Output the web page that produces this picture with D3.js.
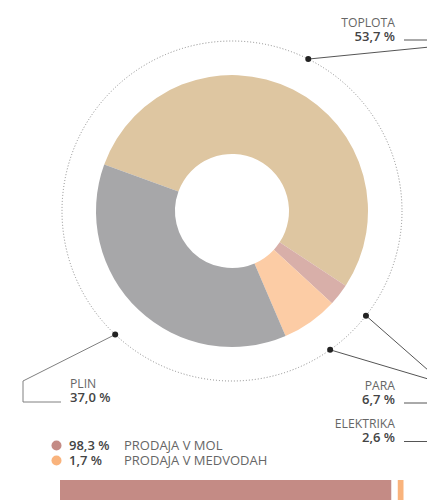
<!DOCTYPE html>
<html>
<head>
<meta charset="utf-8">
<script src="https://cdn.jsdelivr.net/npm/d3@7"></script>
<style>
  html, body { margin: 0; padding: 0; background: #fff; overflow: hidden; }
  text { font-family: "Open Sans", sans-serif; font-size: 12.2px; }
</style>
</head>
<body>
<script>
// Deleži porabe energentov (kolobar) in prodaje (vodoravni trak)
const kategorije = ["TOPLOTA", "ELEKTRIKA", "PARA", "PLIN"];
const vrednosti = [53.7, 2.6, 6.7, 37.0];
const oznake = ["53,7 %", "2,6 %", "6,7 %", "37,0 %"];
const barve = ["#dec6a1", "#d8afa9", "#fccca5", "#a7a7a9"];

const prodajaKategorije = ["PRODAJA V MOL", "PRODAJA V MEDVODAH"];
const prodajaVrednosti = [98.3, 1.7];
const prodajaOznake = ["98,3 %", "1,7 %"];
const prodajaBarve = ["#c48b85", "#f9b37c"];

const sirina = 427, visina = 500;
const cx = 232, cy = 211;
const rZunaj = 136, rNotri = 57, rPike = 170;

// postavitev napisov (x, y osnovne črte, poravnava, prelom za povezavo)
const napisi = {
  TOPLOTA:   { x: 395, y: 27,  anchor: "end",   lom: [450, 45],  crtaY: 40,    crtaX: 404 },
  ELEKTRIKA: { x: 395, y: 428, anchor: "end",   lom: [445, 385], crtaY: 441.5, crtaX: 404 },
  PARA:      { x: 395, y: 390, anchor: "end",   lom: [445, 384], crtaY: 403,   crtaX: 404 },
  PLIN:      { x: 70,  y: 388, anchor: "start", lom: [23, 381],  crtaY: 402,   crtaX: 61 }
};

const svg = d3.select("body").append("svg")
  .attr("width", sirina)
  .attr("height", visina);

const zacetek = -70 * Math.PI / 180;
const pie = d3.pie().sort(null).value(d => d)
  .startAngle(zacetek).endAngle(zacetek + 2 * Math.PI);
const arc = d3.arc().innerRadius(rNotri).outerRadius(rZunaj);

const g = svg.append("g").attr("transform", `translate(${cx},${cy})`);

// pikčasta krožnica
g.append("circle")
  .attr("r", rPike)
  .attr("fill", "none")
  .attr("stroke", "#8a8a8a")
  .attr("stroke-width", 1)
  .attr("stroke-dasharray", "1,2");

const loki = pie(vrednosti);

g.selectAll("path.lok")
  .data(loki)
  .enter().append("path")
  .attr("class", "lok")
  .attr("d", arc)
  .attr("fill", (d, i) => barve[i]);

// povezovalne črte in pike
loki.forEach((d, i) => {
  const kot = (d.startAngle + d.endAngle) / 2;
  const px = cx + rPike * Math.sin(kot);
  const py = cy - rPike * Math.cos(kot);
  const n = napisi[kategorije[i]];
  const barvaCrte = kategorije[i] === "PLIN" ? "#808080" : "#555";

  svg.append("path")
    .attr("d", d3.line()([[px, py], n.lom, [n.lom[0], n.crtaY], [n.crtaX, n.crtaY]]))
    .attr("fill", "none")
    .attr("stroke", barvaCrte)
    .attr("stroke-width", 1);

  svg.append("circle")
    .attr("cx", px)
    .attr("cy", py)
    .attr("r", 3)
    .attr("fill", "#222");

  svg.append("text")
    .attr("x", n.x)
    .attr("y", n.y)
    .attr("text-anchor", n.anchor)
    .attr("fill", "#666")
    .text(kategorije[i]);

  svg.append("text")
    .attr("x", n.x)
    .attr("y", n.y + 13.5)
    .attr("text-anchor", n.anchor)
    .attr("fill", "#444")
    .attr("font-weight", 600)
    .style("font-size", "13px")
    .text(oznake[i]);
});

// legenda prodaje
const legenda = svg.selectAll("g.legenda")
  .data(prodajaKategorije)
  .enter().append("g")
  .attr("class", "legenda")
  .attr("transform", (d, i) => `translate(0,${449.5 + i * 15})`);

legenda.append("circle")
  .attr("cx", 56.5)
  .attr("cy", -4)
  .attr("r", 5)
  .attr("fill", (d, i) => prodajaBarve[i]);

legenda.append("text")
  .attr("x", 69)
  .attr("fill", "#444")
  .attr("font-weight", 600)
  .style("font-size", "13px")
  .text((d, i) => prodajaOznake[i]);

legenda.append("text")
  .attr("x", 124)
  .attr("fill", "#666")
  .style("font-size", "13px")
  .text(d => d);

// vodoravni trak
const x = d3.scaleLinear().domain([0, 100]).range([0, 337]);
let odmik = 60;
prodajaVrednosti.forEach((v, i) => {
  svg.append("rect")
    .attr("x", odmik)
    .attr("y", 480)
    .attr("width", x(v))
    .attr("height", 25)
    .attr("fill", prodajaBarve[i]);
  odmik += x(v) + 6.5;
});
</script>
</body>
</html>
